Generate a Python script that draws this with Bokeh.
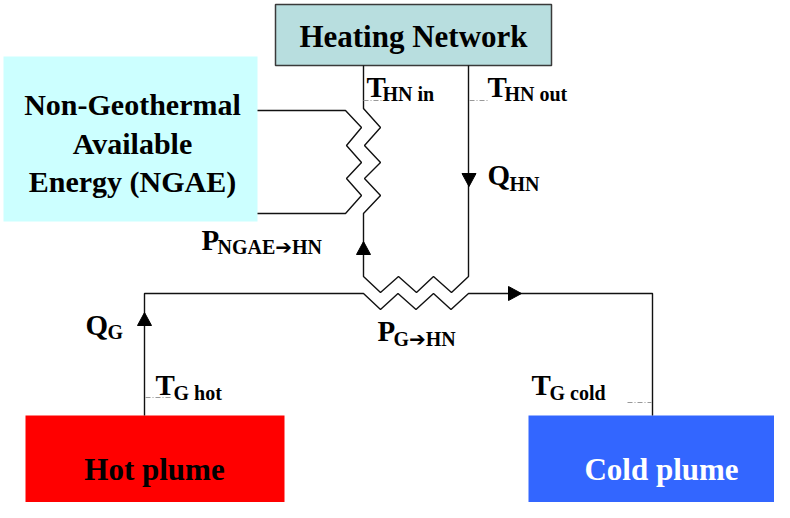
from bokeh.plotting import figure
from bokeh.models import Range1d
from bokeh.core.properties import value
from bokeh.embed import file_html
from bokeh.resources import INLINE

FONT = value("Liberation Serif")
SUBFONT = value("'Liberation Serif', 'DejaVu Sans'")
TY = -9  # baseline correction for svg text

# ---- boxes ----
box_names = ["Heating Network", "NGAE", "Hot plume", "Cold plume"]
box_left = [275, 3, 25, 528]
box_right = [551, 257, 284, 790]
box_top = [4, 56, 415, 415]
box_bottom = [65, 221, 516, 516]
box_fill = ["#b8dedf", "#ccffff", "#ff0000", "#3366ff"]
box_line = ["#3a3a3a", None, None, None]

# ---- pipe paths ----
geo_x = [144, 144, 363, 380, 397.5, 415.5, 433, 450.5, 468, 652, 652]
geo_y = [415, 293, 293, 309, 293, 309, 293, 309, 293, 293, 415]

hn_x = [363, 363, 380, 364, 380, 364, 380, 363, 363, 380, 398, 416, 433, 451, 468, 468]
hn_y = [65, 108, 127, 145, 162, 178, 195, 213, 276, 292, 276, 292, 276, 292, 276, 65]

ngae_x = [257, 345, 361, 346, 361, 346, 361, 345, 257]
ngae_y = [110, 110, 127, 145, 162, 178, 195, 213, 213]

# ---- arrows (tip x, tip y, direction) ----
arrow_x = [144, 363, 468.5, 521]
arrow_y = [312, 241, 186, 293]
arrow_dir = ["up", "up", "down", "right"]

# ---- temperature probe dash lines ----
probe_x0 = [363, 469, 145, 627]
probe_x1 = [381, 488, 172, 651]
probe_y = [100, 100, 397, 402]

# ---- labels (main symbol + subscript) ----
lab_main = ["T", "T", "Q", "P", "P", "Q", "T", "T"]
lab_sub = ["HN in", "HN out", "HN", "NGAE\u2794HN", "G\u2794HN", "G", "G hot", "G cold"]
lab_x = [366, 487, 487, 201, 377, 85, 155, 531]
lab_y = [95, 95, 183, 248, 339, 333, 393, 393]
sub_dx = [16, 17, 22, 16, 16, 22, 18, 18]
sub_dy = [7, 7, 9, 7, 8, 7, 8, 8]

p = figure(width=774, height=502, x_range=Range1d(0, 774), y_range=Range1d(502, 0),
           output_backend="svg", toolbar_location=None, min_border=0)
p.axis.visible = False
p.grid.visible = False
p.outline_line_color = None
p.background_fill_color = "white"

for i in range(len(box_names)):
    p.quad(left=box_left[i], right=box_right[i], top=box_top[i], bottom=box_bottom[i],
           fill_color=box_fill[i], line_color=box_line[i], line_width=1.5)

for xs, ys in [(geo_x, geo_y), (hn_x, hn_y), (ngae_x, ngae_y)]:
    p.line(xs, ys, line_color="#111111", line_width=1.4)

for x0, x1, y in zip(probe_x0, probe_x1, probe_y):
    p.line([x0, x1], [y, y], line_color="#999999", line_width=1, line_dash="5 2 1 2")

L, W = 13, 7
axs, ays = [], []
for tx, ty, d in zip(arrow_x, arrow_y, arrow_dir):
    if d == "up":
        axs.append([tx, tx - W, tx + W]); ays.append([ty, ty + L, ty + L])
    elif d == "down":
        axs.append([tx, tx - W, tx + W]); ays.append([ty, ty - L, ty - L])
    else:
        axs.append([tx, tx - L, tx - L]); ays.append([ty, ty - W, ty + W])
p.patches(axs, ays, fill_color="black", line_color="black", line_width=1)

# box texts
p.text(x=[413], y=[45 + TY], text=["Heating Network"], text_font=FONT, text_font_style="bold",
       text_font_size="31px", text_align="center", text_baseline="alphabetic", text_color="black")
p.text(x=[132, 132, 132], y=[113 + TY, 152 + TY, 190 + TY],
       text=["Non-Geothermal", "Available", "Energy (NGAE)"],
       text_font=FONT, text_font_style="bold", text_font_size="30px", text_align="center",
       text_baseline="alphabetic", text_color="black")
p.text(x=[154], y=[478 + TY], text=["Hot plume"], text_font=FONT, text_font_style="bold",
       text_font_size="31px", text_align="center", text_baseline="alphabetic", text_color="black")
p.text(x=[661], y=[478 + TY], text=["Cold plume"], text_font=FONT, text_font_style="bold",
       text_font_size="31px", text_align="center", text_baseline="alphabetic", text_color="white")

p.text(x=lab_x, y=[v + TY for v in lab_y], text=lab_main, text_font=FONT, text_font_style="bold",
       text_font_size="29px", text_align="left", text_baseline="alphabetic", text_color="black")
p.text(x=[a + b for a, b in zip(lab_x, sub_dx)], y=[a + b + TY for a, b in zip(lab_y, sub_dy)],
       text=lab_sub, text_font=SUBFONT, text_font_style="bold",
       text_font_size="20px", text_align="left", text_baseline="alphabetic", text_color="black")

open("out.html", "w").write(file_html(p, INLINE))
